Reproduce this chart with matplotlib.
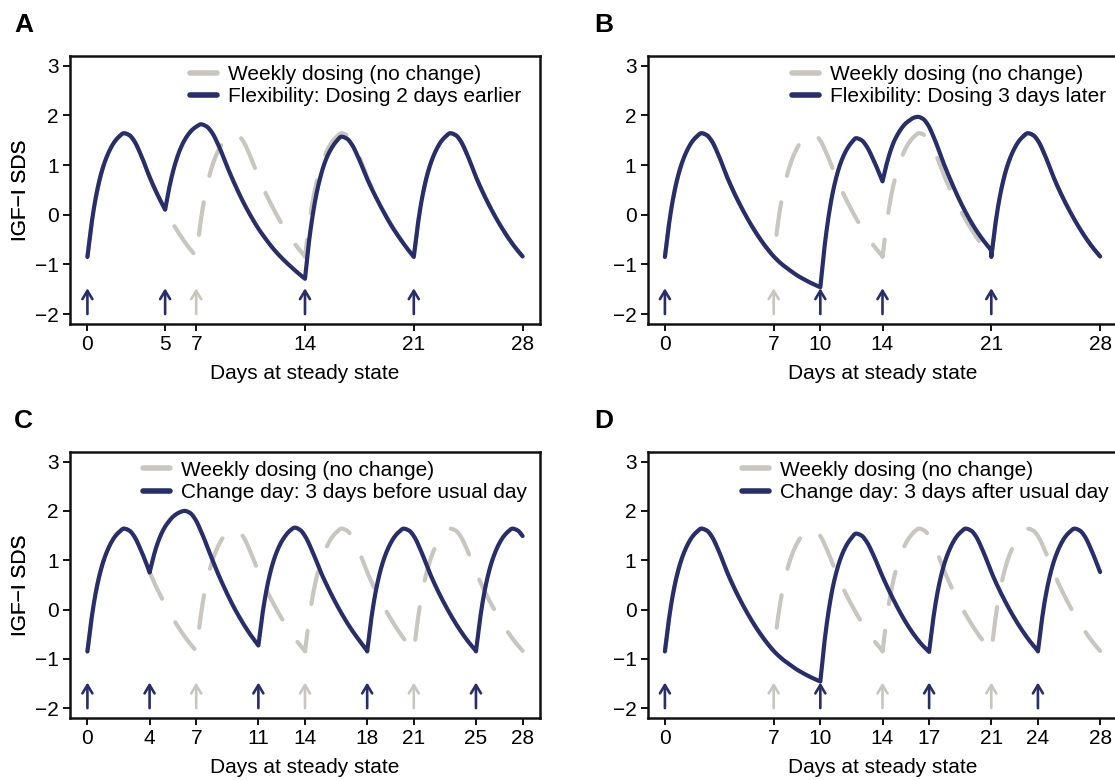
import numpy as np
import matplotlib
matplotlib.use("Agg")
import matplotlib.pyplot as plt
from matplotlib.lines import Line2D

plt.rcParams['font.family'] = ['Liberation Sans', 'DejaVu Sans']

# ---------------- data ----------------
# standard weekly cycle: days after a dose -> IGF-I SDS
WEEK_T = [0, 0.25, 0.5, 0.75, 1.0, 1.25, 1.5, 1.75, 2.0, 2.35, 2.7, 3.0, 3.5, 4.0, 4.5, 5.0, 5.5, 6.0, 6.5, 7.0]
WEEK_Y = [-0.85, -0.22, 0.28, 0.66, 0.95, 1.17, 1.34, 1.47, 1.56, 1.64, 1.6, 1.49, 1.16, 0.76, 0.41, 0.1, -0.18, -0.43, -0.65, -0.84]
# continued decline when no dose is given on day 7
EXT_T = [7.5, 8, 8.5, 9, 9.5, 10]
EXT_Y = [-0.99, -1.11, -1.22, -1.31, -1.39, -1.46]

WEEKLY_DOSES = [0, 7, 14, 21]

# Panel A: dosing 2 days earlier
A_DOSES = [0, 5, 14, 21]
A_GREY_ONLY = [7]
A_SEG2_X = [5, 5.25, 5.5, 5.75, 6, 6.25, 6.5, 6.75, 7, 7.3, 7.65, 8, 8.5, 9, 9.5, 10, 10.5, 11, 11.5, 12, 12.5, 13, 13.5, 14]
A_SEG2_Y = [0.1, 0.52, 0.86, 1.13, 1.34, 1.5, 1.62, 1.71, 1.77, 1.82, 1.78, 1.66, 1.35, 0.96, 0.6, 0.27, -0.02, -0.28, -0.5, -0.7, -0.87, -1.02, -1.16, -1.29]
A_SEG3_X = [14, 14.25, 14.5, 14.75, 15, 15.25, 15.5, 15.75, 16, 16.35, 16.7, 17, 17.5, 18, 18.5, 19, 19.5, 20, 20.5, 21]
A_SEG3_Y = [-1.29, -0.56, 0.0, 0.44, 0.77, 1.03, 1.22, 1.36, 1.47, 1.57, 1.53, 1.42, 1.1, 0.72, 0.39, 0.09, -0.19, -0.43, -0.65, -0.85]

# Panel B: dosing 3 days later
B_DOSES = [0, 10, 14, 21]
B_GREY_ONLY = [7]
B_SEG2_X = [10, 10.25, 10.5, 10.75, 11, 11.25, 11.5, 11.75, 12, 12.3, 12.65, 12.95, 13.45, 14]
B_SEG2_Y = [-1.46, -0.7, -0.1, 0.37, 0.72, 0.99, 1.19, 1.34, 1.45, 1.54, 1.5, 1.39, 1.08, 0.67]
B_SEG3_X = [14, 14.25, 14.5, 14.75, 15, 15.25, 15.5, 15.75, 16, 16.27, 16.6, 16.9, 17.4, 17.9, 18.4, 18.9, 19.4, 19.9, 20.4, 21]
B_SEG3_Y = [0.67, 1.0, 1.27, 1.48, 1.63, 1.75, 1.84, 1.9, 1.95, 1.97, 1.93, 1.82, 1.48, 1.06, 0.68, 0.33, 0.02, -0.25, -0.48, -0.72]

# Panel C: change day 3 days before usual day
C_DOSES = [0, 4, 11, 18, 25]
C_GREY_ONLY = [7, 14, 21]
C_SEG2_X = [4, 4.25, 4.5, 4.75, 5, 5.25, 5.5, 5.75, 6, 6.25, 6.6, 6.9, 7.4, 7.9, 8.4, 8.9, 9.4, 9.9, 10.4, 11]
C_SEG2_Y = [0.75, 1.07, 1.33, 1.53, 1.68, 1.79, 1.88, 1.94, 1.98, 2.0, 1.96, 1.85, 1.52, 1.12, 0.73, 0.38, 0.06, -0.22, -0.47, -0.73]
C_SEG3_X = [11, 11.25, 11.5, 11.75, 12, 12.25, 12.5, 12.75, 13, 13.35, 13.7, 14, 14.5, 15, 15.5, 16, 16.5, 17, 17.5, 18]
C_SEG3_Y = [-0.73, -0.12, 0.36, 0.73, 1.01, 1.22, 1.38, 1.5, 1.59, 1.66, 1.61, 1.49, 1.16, 0.77, 0.43, 0.12, -0.16, -0.41, -0.63, -0.84]

# Panel D: change day 3 days after usual day
D_DOSES = [0, 10, 17, 24]
D_GREY_ONLY = [7, 14, 21]
D_SEG2_X = [10, 10.25, 10.5, 10.75, 11, 11.25, 11.5, 11.75, 12, 12.3, 12.65, 12.95, 13.45, 14, 14.5, 15, 15.5, 16, 16.5, 17]
D_SEG2_Y = [-1.46, -0.7, -0.1, 0.37, 0.72, 0.99, 1.19, 1.34, 1.45, 1.54, 1.5, 1.39, 1.08, 0.67, 0.33, 0.02, -0.26, -0.5, -0.7, -0.86]

LEGEND_GREY = "Weekly dosing (no change)"
LABELS = {
    "A": "Flexibility: Dosing 2 days earlier",
    "B": "Flexibility: Dosing 3 days later",
    "C": "Change day: 3 days before usual day",
    "D": "Change day: 3 days after usual day",
}
XTICKS = {
    "A": [0, 5, 7, 14, 21, 28],
    "B": [0, 7, 10, 14, 21, 28],
    "C": [0, 4, 7, 11, 14, 18, 21, 25, 28],
    "D": [0, 7, 10, 14, 17, 21, 24, 28],
}
YTICKS = [-2, -1, 0, 1, 2, 3]

NAVY = "#272e6a"
GREY = "#c9c6bf"


# ---------------- helpers ----------------
def pchip(x, y, xn):
    x = np.asarray(x, float)
    y = np.asarray(y, float)
    h = np.diff(x)
    d = np.diff(y) / h
    n = len(x)
    m = np.zeros(n)
    m[0] = d[0]
    m[-1] = d[-1]
    for k in range(1, n - 1):
        if d[k - 1] * d[k] <= 0:
            m[k] = 0.0
        else:
            w1 = 2 * h[k] + h[k - 1]
            w2 = h[k] + 2 * h[k - 1]
            m[k] = (w1 + w2) / (w1 / d[k - 1] + w2 / d[k])
    idx = np.clip(np.searchsorted(x, xn) - 1, 0, n - 2)
    hh = h[idx]
    s = (xn - x[idx]) / hh
    h00 = 2 * s**3 - 3 * s**2 + 1
    h10 = s**3 - 2 * s**2 + s
    h01 = -2 * s**3 + 3 * s**2
    h11 = s**3 - s**2
    return h00 * y[idx] + h10 * hh * m[idx] + h01 * y[idx + 1] + h11 * hh * m[idx + 1]


def smooth(x, y):
    xn = np.linspace(x[0], x[-1], 300)
    return xn, pchip(x, y, xn)


def week_seg(dose, end, extended=False):
    t = list(WEEK_T) + (list(EXT_T) if extended else [])
    v = list(WEEK_Y) + (list(EXT_Y) if extended else [])
    xs = [dose + a for a in t if a <= end - dose + 1e-9]
    ys = [b for a, b in zip(t, v) if a <= end - dose + 1e-9]
    return xs, ys


def join(segs):
    X, Y = [], []
    for xs, ys in segs:
        sx, sy = smooth(xs, ys)
        X.extend(sx)
        Y.extend(sy)
    return np.array(X), np.array(Y)


weekly_segs = [week_seg(d, d + 7) for d in WEEKLY_DOSES]

navy_segs = {
    "A": [week_seg(0, 5), (A_SEG2_X, A_SEG2_Y), (A_SEG3_X, A_SEG3_Y), week_seg(21, 28)],
    "B": [week_seg(0, 10, True), (B_SEG2_X, B_SEG2_Y), (B_SEG3_X, B_SEG3_Y), week_seg(21, 28)],
    "C": [week_seg(0, 4), (C_SEG2_X, C_SEG2_Y), (C_SEG3_X, C_SEG3_Y), week_seg(18, 25), week_seg(25, 28)],
    "D": [week_seg(0, 10, True), (D_SEG2_X, D_SEG2_Y), week_seg(17, 24), week_seg(24, 28)],
}
doses = {"A": (A_DOSES, A_GREY_ONLY), "B": (B_DOSES, B_GREY_ONLY),
         "C": (C_DOSES, C_GREY_ONLY), "D": (D_DOSES, D_GREY_ONLY)}

# ---------------- figure ----------------
W, H = 1115, 780
fig = plt.figure(figsize=(W / 100, H / 100), dpi=100)

boxes = {
    "A": (70, 55.7, 540, 324),
    "B": (647.5, 55.7, 1117.5, 324),
    "C": (70, 451.7, 540, 718),
    "D": (647.5, 451.7, 1117.5, 718),
}
legend_x = {"A": 190, "B": 792, "C": 143, "D": 741.6}
letter_pos = {"A": (14, 32), "B": (594, 32), "C": (14, 428), "D": (594, 428)}

FS = 15
arrow_style = '->,head_length=0.6,head_width=0.36'
for key in ["A", "B", "C", "D"]:
    l, t, r, b = boxes[key]
    ax = fig.add_axes([l / W, 1 - b / H, (r - l) / W, (b - t) / H])

    gx, gy = join(weekly_segs)
    ax.plot(gx, gy, color=GREY, lw=3, linestyle=(0, (7.9, 6.5)),
            dash_capstyle='round', solid_capstyle='round', zorder=2)
    nx, ny = join(navy_segs[key])
    ax.plot(nx, ny, color=NAVY, lw=3, solid_capstyle='round', solid_joinstyle='round', zorder=3)

    nd, gd = doses[key]
    for d in gd:
        ax.annotate('', xy=(d, -1.48), xytext=(d, -2.0),
                    arrowprops=dict(arrowstyle=arrow_style, lw=1.9, color=GREY,
                                    shrinkA=0, shrinkB=0))
    for d in nd:
        ax.annotate('', xy=(d, -1.48), xytext=(d, -2.0),
                    arrowprops=dict(arrowstyle=arrow_style, lw=1.9, color=NAVY,
                                    shrinkA=0, shrinkB=0))

    ax.set_xlim(-1.12, 29.12)
    ax.set_ylim(-2.2, 3.2)
    ax.set_xticks(XTICKS[key])
    ax.set_xticklabels([str(v) for v in XTICKS[key]])
    ax.set_yticks(YTICKS)
    ax.set_yticklabels([str(v).replace('-', '\u2212') for v in YTICKS])
    ax.tick_params(direction='out', length=5, width=1.4, labelsize=FS, pad=3, color='#111111')
    for sp in ax.spines.values():
        sp.set_linewidth(1.8)
        sp.set_color('#111111')
    ax.set_xlabel("Days at steady state", fontsize=FS, labelpad=7)
    ax.set_ylabel("IGF\u2212I SDS", fontsize=FS)
    ax.yaxis.set_label_coords((30 - l) / (r - l), 0.5)

    handles = [Line2D([], [], color=GREY, lw=4, solid_capstyle='round'),
               Line2D([], [], color=NAVY, lw=4, solid_capstyle='round')]
    ax.legend(handles, [LEGEND_GREY, LABELS[key]], loc='upper left',
              bbox_to_anchor=((legend_x[key] - l) / (r - l), 0.966),
              frameon=False, fontsize=FS, borderpad=0, borderaxespad=0,
              handlelength=1.3, handletextpad=0.52, labelspacing=0.17)

    lx, ly = letter_pos[key]
    fig.text(lx / W, 1 - ly / H, key, fontsize=19, fontweight='bold', va='baseline', ha='left')

fig.savefig("out.png", dpi=100)
